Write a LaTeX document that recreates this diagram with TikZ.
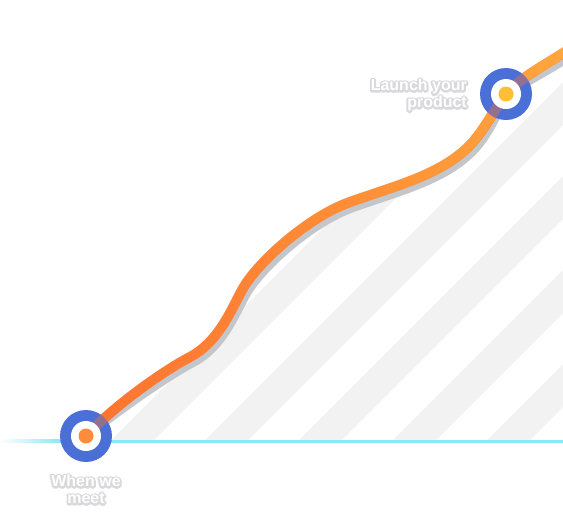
\documentclass[tikz,border=0pt]{standalone}
\usepackage{fontspec}
\setmainfont{Liberation Sans}
\usetikzlibrary{fadings}
\definecolor{ringblue}{HTML}{4A6FD6}
\definecolor{trendlow}{HTML}{FF7230}
\definecolor{trendhigh}{HTML}{FFA83E}
\definecolor{trendshadow}{HTML}{C3C6CB}
\definecolor{stripegray}{HTML}{F2F2F2}
\definecolor{basecyan}{HTML}{8DE6F8}
\definecolor{dotorange}{HTML}{FF8C3C}
\definecolor{dotyellow}{HTML}{FFBE33}
% grey stroked copy of a line of text under the white one
\newcommand{\rimtext}[1]{\leavevmode\rlap{\special{pdf:literal direct 1 Tr 3.8 w 1 j 0.85 0.85 0.865 RG}#1\special{pdf:literal direct 0 Tr 0 j}}#1}
\tikzfading[name=trendfade, left color=transparent!100, middle color=transparent!75, right color=transparent!0]

\begin{document}
\begin{tikzpicture}[x=1pt,y=-1pt,
    stripe/.style={stripegray,line width=30.4pt},
    trendline/.style={line width=10pt,line cap=round},
    milestone/.style={text=white,font=\bfseries\fontsize{16}{17}\selectfont,inner sep=0pt}]
  \useasboundingbox (0,0) rectangle (563,512);
  \clip (0,0) rectangle (563,512);
  \coordinate (meetpt) at (86,436);
  \coordinate (launchpt) at (506,94);
  \def\trend{(meetpt) .. controls (116,404) and (165,370) .. (190,357)
    .. controls (222,340) and (234,302) .. (245,285)
    .. controls (261,260) and (308,217) .. (350,202)
    .. controls (395,186) and (436,176) .. (465,150)
    .. controls (482,135) and (492,113) .. (launchpt)
    .. controls (520,78) and (540,68) .. (578,44)}
  % striped area under the curve
  \begin{scope}
    \clip \trend -- (578,441) -- (86,441) -- cycle;
    \foreach \k in {-5,...,5} { \draw[stripe] ({572.5+94*\k},0) -- ++(-600,600); }
  \end{scope}
  % base line, faded on the left
  \shade[left color=white,right color=basecyan] (0,439.5) rectangle (60,442.5);
  \draw[basecyan,line width=3pt] (60,441) -- (563,441);
  % the curve with its shadow
  \draw[trendline,trendshadow,shift={(3,5)}] \trend;
  \draw[trendline,trendlow] \trend;
  \draw[trendline,trendhigh,path fading=trendfade] \trend;
  % the two milestones
  \foreach \p/\dot in {meetpt/dotorange,launchpt/dotyellow} {
    \fill[ringblue] (\p) circle (26);
    \begin{scope}
      \clip (\p) circle (26);
      \draw[trendline,trendlow,opacity=0.4] \trend;
    \end{scope}
    \fill[white] (\p) circle (15);
    \fill[\dot] (\p) circle (7.5);
  }
  \node[milestone,anchor=north,align=center] (meet) at (86,475) {\rimtext{When we}\\\rimtext{meet}};
  \node[milestone,anchor=north east,align=right] (launch) at (467,79) {\rimtext{Launch your}\\\rimtext{product}};
\end{tikzpicture}
\end{document}
